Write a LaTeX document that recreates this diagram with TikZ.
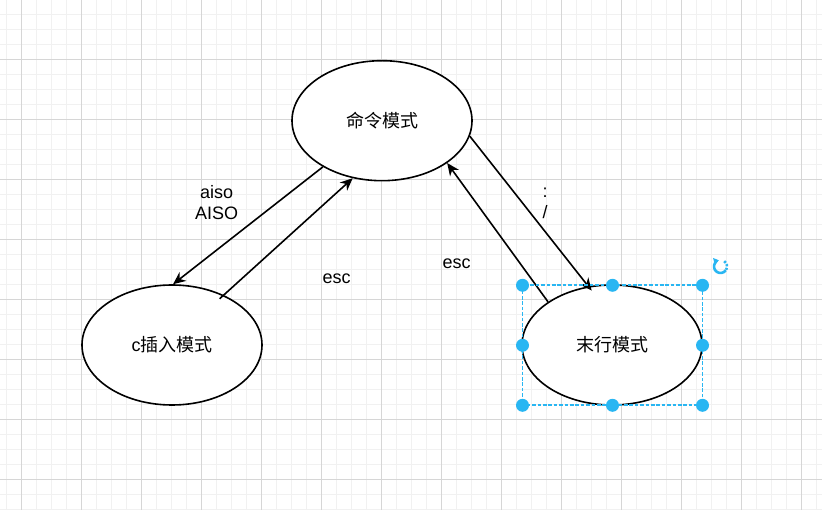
\documentclass[tikz,border=0pt]{standalone}
\usepackage{fontspec}
\setmainfont{Liberation Sans}
\newfontfamily\cjk{Noto Sans CJK SC}
\usetikzlibrary{shapes.geometric,arrows.meta}
\definecolor{gridmajor}{HTML}{D6D6D6}
\definecolor{gridminor}{HTML}{F1F1F1}
\definecolor{selblue}{HTML}{29B6F2}
\tikzset{
  state/.style={ellipse,draw=black,line width=1.6pt,fill=white,minimum width=180pt,minimum height=120pt,inner sep=0pt,font=\fontsize{18}{21}\selectfont},
  lbl/.style={font=\fontsize{18}{21}\selectfont,align=center,inner sep=0pt},
  conn/.style={line width=1.6pt,-{Stealth[length=12.5pt,width=11pt,inset=4pt]}},
  handle/.style={circle,fill=selblue,draw=none,minimum size=13pt,inner sep=0pt},
  selbox/.style={draw=selblue,line width=1.6pt,dash pattern=on 3.6pt off 1.8pt},
}
\begin{document}
\begin{tikzpicture}[x=1pt,y=-1pt]
\useasboundingbox (0,0) rectangle (822,510);
% grid
\foreach \x in {6.3,21.3,...,822} {\draw[gridminor,line width=1.2pt] (\x,0) -- (\x,510);}
\foreach \y in {14.3,29.3,...,510} {\draw[gridminor,line width=1.2pt] (0,\y) -- (822,\y);}
\foreach \x in {21.3,81.3,...,822} {\draw[gridmajor,line width=0.9pt] (\x,0) -- (\x,510);}
\foreach \y in {59.3,119.3,...,510} {\draw[gridmajor,line width=0.9pt] (0,\y) -- (822,\y);}
% states
\node[state] (cmd) at (382,120.7) {\cjk 命令模式};
\node[state] (ins) at (172,345) {c\cjk 插入模式};
\node[state] (last) at (612,345) {\cjk 末行模式};
% connectors
\draw[conn] (cmd.218) -- (ins.89);
\draw[conn,shorten <=-5.5pt] (ins.44) -- (cmd.243);
\draw[conn] (last.146) -- (cmd.327);
\draw[conn,shorten >=-5.5pt] (cmd.350) -- (last.112);
% labels
\node[lbl] (l1) at (216.7,202.8) {aiso\\AISO};
\node[lbl] (l2) at (336.7,278.3) {esc};
\node[lbl] (l3) at (456.7,263.3) {esc};
\node[lbl] (l4) at (545,203.5) {:\\/};
% selection
\draw[selbox] (522.5,285.3) rectangle (702.5,405.3);
\foreach \hx/\hy [count=\i] in {522.5/285.3,612.5/285.3,702.5/285.3,522.5/345.3,702.5/345.3,522.5/405.3,612.5/405.3,702.5/405.3}
  {\node[handle] (h\i) at (\hx,\hy) {};}
% rotate icon
\coordinate (rc) at (720.5,266.5);
\begin{scope}[shift={(rc)},x=1pt,y=1pt]
  \draw[selblue,line width=2.6pt,-{Triangle[length=5pt,width=7pt]}] (-35:6.5) arc[start angle=-35,end angle=-255,radius=6.5];
  \draw[selblue,line width=2.6pt,dash pattern=on 2.2pt off 1.6pt] (55:6.5) arc[start angle=55,end angle=-30,radius=6.5];
\end{scope}
\end{tikzpicture}
\end{document}
